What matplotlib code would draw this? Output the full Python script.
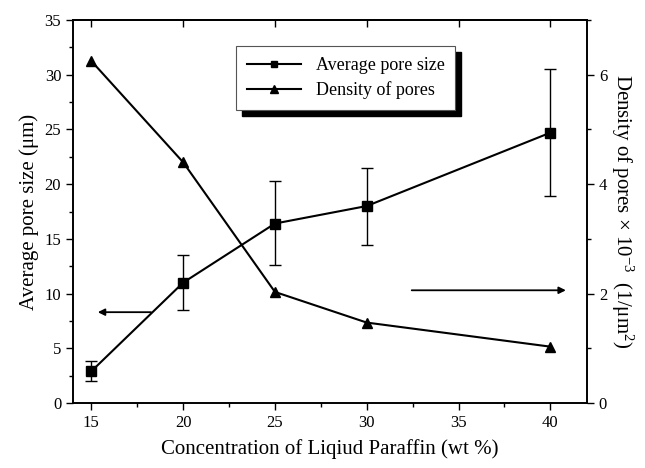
import matplotlib
matplotlib.use("Agg")
import matplotlib.pyplot as plt
from matplotlib.lines import Line2D
from matplotlib.patches import Rectangle
from matplotlib.ticker import MultipleLocator, NullFormatter

plt.rcParams['font.family'] = ['Liberation Serif', 'DejaVu Serif']
plt.rcParams['mathtext.fontset'] = 'custom'
plt.rcParams['mathtext.rm'] = 'Liberation Serif'
plt.rcParams['mathtext.it'] = 'Liberation Serif:italic'

# data
conc = [15, 20, 25, 30, 40]
pore_size = [2.9, 11.0, 16.4, 18.0, 24.7]
err_low = [2.0, 8.5, 12.6, 14.4, 18.9]
err_high = [3.8, 13.5, 20.3, 21.5, 30.5]
density = [6.25, 4.4, 2.03, 1.47, 1.03]

yerr = [[p - lo for p, lo in zip(pore_size, err_low)],
        [hi - p for p, hi in zip(pore_size, err_high)]]

fig = plt.figure(figsize=(6.45, 4.68), dpi=100)
ax = fig.add_axes([73/645, 1 - 403/468, (587-73)/645, (403-20)/468])
ax2 = ax.twinx()

ax.errorbar(conc, pore_size, yerr=yerr, color='black', marker='s', ms=6.5,
            lw=1.5, elinewidth=1.0, capsize=4, capthick=1.0)
ax2.plot(conc, density, color='black', marker='^', ms=7.5, lw=1.5)

ax.set_xlim(14, 42)
ax.set_ylim(0, 35)
ax2.set_ylim(0, 7)

ax.xaxis.set_major_locator(MultipleLocator(5))
ax.xaxis.set_minor_locator(MultipleLocator(2.5))
ax.yaxis.set_major_locator(MultipleLocator(5))
ax.yaxis.set_minor_locator(MultipleLocator(2.5))
ax2.yaxis.set_major_locator(MultipleLocator(2))
ax2.yaxis.set_minor_locator(MultipleLocator(1))

for a in (ax, ax2):
    a.tick_params(which='both', direction='out', labelsize=12, width=1)
    a.tick_params(which='major', length=5)
    a.tick_params(which='minor', length=3)
    for s in a.spines.values():
        s.set_linewidth(1.2)

# inward ticks on the top edge
top = ax.secondary_xaxis('top')
top.xaxis.set_major_locator(MultipleLocator(5))
top.xaxis.set_major_formatter(NullFormatter())
top.tick_params(direction='in', length=5, width=1)
top.spines['top'].set_linewidth(1.2)

ax.set_xlabel('Concentration of Liqiud Paraffin (wt %)', fontsize=15, labelpad=6)
ax.set_ylabel('Average pore size (μm)', fontsize=15, labelpad=4)
ax2.set_ylabel('Density of pores × 10$^{-3}$  (1/μm$^{2}$)', fontsize=15,
               rotation=-90, labelpad=20)

# direction arrows
ax.annotate('', xy=(15.2, 8.3), xytext=(18.4, 8.3),
            arrowprops=dict(arrowstyle='-|>', color='black', lw=1.3,
                            mutation_scale=10))
ax.annotate('', xy=(41.0, 10.3), xytext=(32.3, 10.3),
            arrowprops=dict(arrowstyle='-|>', color='black', lw=1.3,
                            mutation_scale=10))

ax.set_zorder(ax2.get_zorder() + 1)
ax.patch.set_visible(False)

h1 = Line2D([], [], color='black', marker='s', ms=5, lw=1.5)
h2 = Line2D([], [], color='black', marker='^', ms=6, lw=1.5)
leg = ax.legend([h1, h2], ['Average pore size', 'Density of pores'],
                loc='upper left', bbox_to_anchor=(0.30, 0.955),
                fontsize=13, frameon=True, fancybox=False, edgecolor='#555555',
                framealpha=1, handlelength=3, borderpad=0.6, labelspacing=0.4)
leg.get_frame().set_linewidth(0.8)
leg.set_zorder(10)

fig.canvas.draw()
bb = leg.get_window_extent().transformed(fig.transFigure.inverted())
dx, dy = 6/645, 6/468
shadow = Rectangle((bb.x0 + dx, bb.y0 - dy), bb.width, bb.height,
                   transform=fig.transFigure, color='black', zorder=9,
                   clip_on=False)
ax.add_artist(shadow)

fig.savefig('out.png', dpi=100)
